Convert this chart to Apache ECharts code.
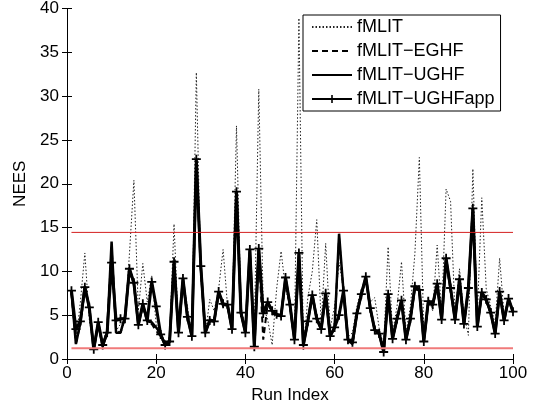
<!DOCTYPE html>
<html>
<head>
<meta charset="utf-8">
<script src="https://cdn.jsdelivr.net/npm/echarts@6/dist/echarts.min.js"></script>
<style>
  html, body { margin: 0; padding: 0; background: #fff; }
  #chart { width: 536px; height: 411px; }
</style>
</head>
<body>
<div id="chart"></div>
<script>
// NEES per run
var seriesNames = ['fMLIT', 'fMLIT\u2212EGHF', 'fMLIT\u2212UGHF', 'fMLIT\u2212UGHFapp'];

var fMLIT = [
  7.5, 2.0, 6.5, 12.1, 4.5, 1.3, 3.8, 1.8, 3.5, 10.5,
  3.2, 4.0, 4.5, 12.0, 20.4, 5.5, 10.9, 6.5, 9.5, 4.0,
  2.6, 1.7, 2.4, 15.4, 3.2, 9.0, 6.0, 2.8, 32.7, 9.5,
  2.7, 6.8, 5.5, 8.0, 12.5, 6.0, 4.0, 26.6, 6.0, 3.4,
  11.0, 3.0, 30.8, 6.0, 4.5, 1.6, 8.0, 12.3, 8.0, 6.0,
  2.5, 38.9, 1.0, 7.0, 10.0, 15.9, 4.0, 13.2, 3.5, 6.0,
  11.0, 8.0, 2.5, 3.0, 6.0, 8.0, 9.0, 6.5, 7.0, 3.5,
  1.5, 12.8, 3.0, 6.0, 11.1, 3.0, 6.0, 12.0, 23.0, 3.0,
  7.0, 5.5, 13.0, 5.0, 19.4, 18.0, 5.0, 10.3, 5.0, 2.7,
  21.7, 5.0, 18.4, 8.0, 6.0, 4.0, 11.5, 5.0, 7.0, 5.0
];

var fMLIT_EGHF = [
  7.6, 1.8, 4.0, 8.0, 5.6, 1.2, 4.0, 1.5, 3.1, 12.8,
  3.2, 3.0, 4.7, 10.2, 8.5, 4.0, 6.0, 4.2, 4.0, 3.2,
  2.6, 1.6, 2.1, 10.8, 3.1, 9.0, 4.9, 2.7, 22.4, 10.4,
  3.0, 4.5, 4.4, 7.4, 6.0, 6.0, 3.5, 18.8, 5.2, 3.1,
  12.2, 1.5, 12.4, 2.2, 6.3, 5.4, 5.0, 5.0, 9.0, 6.0,
  2.3, 11.8, 1.7, 4.4, 7.2, 4.7, 3.5, 7.3, 2.7, 3.7,
  13.8, 7.6, 2.2, 1.8, 5.1, 7.3, 9.2, 5.6, 3.4, 2.8,
  0.9, 7.2, 2.4, 4.5, 6.6, 2.3, 4.5, 8.1, 7.7, 2.1,
  6.4, 6.1, 8.4, 4.6, 11.2, 7.9, 4.6, 8.9, 4.1, 7.9,
  16.9, 3.8, 7.4, 6.6, 5.2, 3.0, 7.5, 4.5, 6.7, 5.3
];

var fMLIT_UGHF = [
  7.7, 1.7, 4.1, 8.3, 5.8, 1.1, 4.1, 1.4, 3.0, 13.4,
  3.0, 3.0, 4.8, 10.3, 8.6, 3.9, 6.2, 4.3, 4.2, 3.6,
  2.9, 1.6, 2.0, 11.0, 3.0, 9.1, 4.8, 2.6, 22.6, 10.5,
  3.0, 4.4, 4.3, 7.6, 6.2, 6.1, 3.4, 19.0, 5.3, 3.0,
  12.4, 1.4, 12.5, 5.2, 6.4, 5.5, 5.1, 4.9, 9.2, 6.1,
  2.2, 12.0, 1.6, 4.3, 7.3, 4.6, 3.4, 7.4, 2.6, 3.6,
  14.3, 7.7, 2.2, 1.7, 5.2, 7.4, 9.3, 5.8, 3.3, 2.9,
  0.8, 7.3, 2.3, 4.6, 6.7, 2.2, 4.6, 8.2, 7.8, 2.0,
  6.5, 6.2, 8.5, 4.5, 11.4, 8.0, 4.5, 9.0, 4.0, 8.0,
  17.1, 3.7, 7.5, 6.7, 5.3, 2.9, 7.6, 4.4, 6.8, 5.4
];

var fMLIT_UGHFapp = [
  7.8, 3.4, 4.3, 8.2, 5.9, 1.1, 4.2, 1.6, 3.0, 11.0,
  4.4, 4.6, 4.6, 10.3, 8.7, 3.9, 6.3, 4.4, 8.8, 6.0,
  2.8, 1.6, 2.0, 11.1, 3.0, 9.2, 4.8, 2.6, 22.8, 10.6,
  3.0, 4.4, 4.3, 7.7, 6.3, 6.2, 3.4, 19.1, 5.3, 3.0,
  12.5, 1.4, 12.6, 5.2, 6.5, 5.5, 5.1, 4.9, 9.3, 6.2,
  2.2, 12.1, 1.6, 4.3, 7.3, 4.6, 3.4, 7.5, 2.6, 3.6,
  5.0, 7.8, 2.2, 1.9, 5.2, 7.4, 9.4, 5.8, 3.3, 2.9,
  0.8, 7.4, 2.3, 4.6, 6.7, 2.2, 4.6, 8.3, 7.9, 2.0,
  6.6, 6.2, 8.6, 4.5, 11.5, 8.1, 4.5, 9.1, 4.0, 8.1,
  17.2, 3.7, 7.6, 6.8, 5.3, 2.9, 7.7, 4.4, 6.9, 5.4
];

// 95% chi-square bounds (lower, upper) and the run span they are drawn over
var bounds = [1.237, 14.449];
var boundRuns = [1, 100];

var xTicks = [0, 20, 40, 60, 80, 100];
var yTicks = [0, 5, 10, 15, 20, 25, 30, 35, 40];

function pairs(vals) {
  return vals.map(function (v, i) { return [i + 1, v]; });
}

var font = 'Liberation Sans, Arial, Helvetica, sans-serif';
var plus = 'path://M4,0H6V4H10V6H6V10H4V6H0V4H4Z';

var chart = echarts.init(document.getElementById('chart'), null, { renderer: 'canvas' });

function axisBase(extra) {
  var a = {
    type: 'value',
    axisLine: { show: true, lineStyle: { color: '#000', width: 1 } },
    axisTick: { show: true, inside: true, length: 5, lineStyle: { color: '#000' } },
    splitLine: { show: false },
    axisLabel: { color: '#000', fontFamily: font, fontSize: 17 }
  };
  for (var k in extra) a[k] = extra[k];
  return a;
}

var option = {
  animation: false,
  backgroundColor: '#fff',
  grid: { left: 67, right: 23, top: 8, bottom: 52 },
  legend: {
    data: [
      { name: seriesNames[0], itemStyle: { opacity: 0 } },
      { name: seriesNames[1], itemStyle: { opacity: 0 } },
      { name: seriesNames[2], itemStyle: { opacity: 0 } },
      { name: seriesNames[3] }
    ],
    orient: 'vertical',
    left: 303,
    top: 15,
    width: 204,
    align: 'left',
    itemWidth: 40,
    itemHeight: 10,
    itemGap: 6,
    padding: [3, 6, 3, 8],
    borderColor: '#000',
    borderWidth: 1,
    backgroundColor: '#fff',
    textStyle: { color: '#000', fontFamily: font, fontSize: 18 }
  },
  xAxis: [
    axisBase({
      min: xTicks[0], max: xTicks[xTicks.length - 1], interval: 20,
      name: 'Run Index', nameLocation: 'middle', nameGap: 27,
      nameTextStyle: { color: '#000', fontFamily: font, fontSize: 17 },
      axisLabel: { color: '#000', fontFamily: font, fontSize: 17, margin: 6 }
    }),
    axisBase({
      position: 'top', min: 0, max: 100, interval: 20,
      axisLabel: { show: false }
    })
  ],
  yAxis: [
    axisBase({
      min: yTicks[0], max: yTicks[yTicks.length - 1], interval: 5,
      name: 'NEES', nameLocation: 'middle', nameGap: 38,
      nameTextStyle: { color: '#000', fontFamily: font, fontSize: 17 },
      axisLabel: { color: '#000', fontFamily: font, fontSize: 17, margin: 8 }
    }),
    axisBase({
      position: 'right', min: 0, max: 40, interval: 5,
      axisLabel: { show: false }
    })
  ],
  series: [
    {
      name: seriesNames[0], type: 'line', data: pairs(fMLIT),
      showSymbol: false, symbol: 'none', z: 2,
      lineStyle: { color: '#222', width: 1, type: [1.5, 2] },
      itemStyle: { color: '#222' }
    },
    {
      name: seriesNames[1], type: 'line', data: pairs(fMLIT_EGHF),
      showSymbol: false, symbol: 'none', z: 3,
      lineStyle: { color: '#000', width: 2, type: [6, 4] },
      itemStyle: { color: '#000' }
    },
    {
      name: seriesNames[2], type: 'line', data: pairs(fMLIT_UGHF),
      showSymbol: false, symbol: 'none', z: 4,
      lineStyle: { color: '#000', width: 2.5 },
      itemStyle: { color: '#000' }
    },
    {
      name: seriesNames[3], type: 'line', data: pairs(fMLIT_UGHFapp),
      symbol: plus, symbolSize: 9, showSymbol: true, z: 5,
      lineStyle: { color: '#000', width: 3 },
      itemStyle: { color: '#000' }
    },
    {
      type: 'line', data: [[boundRuns[0], bounds[0]], [boundRuns[1], bounds[0]]],
      symbol: 'none', z: 6, silent: true,
      lineStyle: { color: '#f07a7a', width: 2 }
    },
    {
      type: 'line', data: [[boundRuns[0], bounds[1]], [boundRuns[1], bounds[1]]],
      symbol: 'none', z: 6, silent: true,
      lineStyle: { color: '#d42020', width: 1 }
    }
  ]
};

chart.setOption(option);
</script>
</body>
</html>
